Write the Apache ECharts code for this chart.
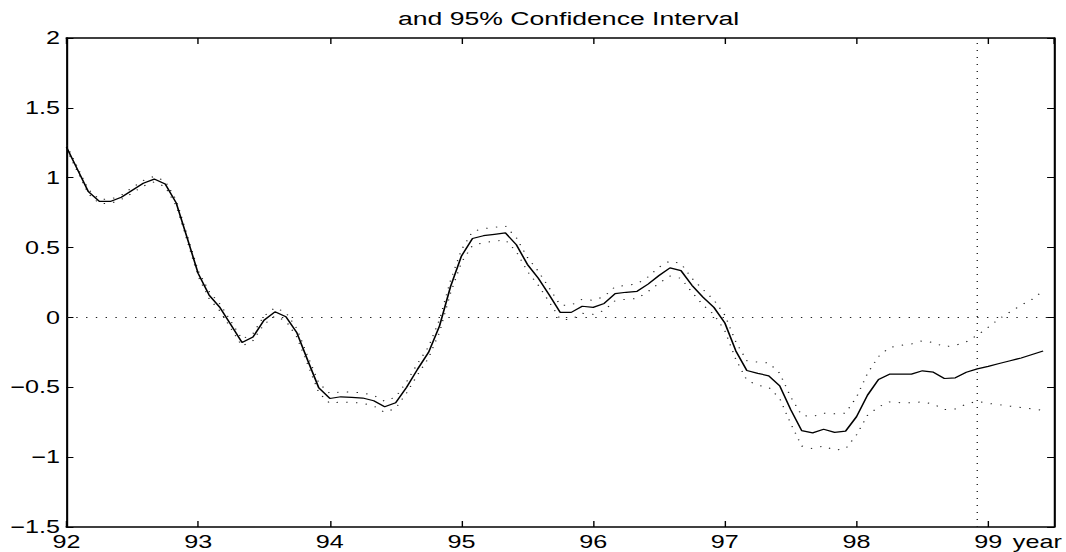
<!DOCTYPE html>
<html>
<head>
<meta charset="utf-8">
<script src="https://cdn.jsdelivr.net/npm/echarts@6/dist/echarts.min.js"></script>
<style>
  html, body { margin: 0; padding: 0; background: #fff; overflow: hidden; }
  /* figure is laid out narrow and widened horizontally, like a stretched plot window */
  #chart { position: absolute; left: 0; top: 0; width: 762px; height: 552px;
           transform: scaleX(1.39895); transform-origin: 0 0; }
</style>
</head>
<body>
<div id="chart"></div>
<script>
// Monthly estimates starting January 1992 (year given as two digits)
const startYear = 92;

const estimate = [
  1.22, 1.06, 0.90, 0.83, 0.83, 0.86, 0.91, 0.96, 0.99, 0.955, 0.82, 0.57,
  0.315, 0.16, 0.07, -0.055, -0.18, -0.14, -0.02, 0.04, 0.005, -0.11, -0.31, -0.505,
  -0.58, -0.568, -0.572, -0.577, -0.596, -0.64, -0.61, -0.50, -0.37, -0.25, -0.06, 0.22,
  0.44, 0.565, 0.585, 0.595, 0.605, 0.52, 0.38, 0.28, 0.16, 0.036, 0.036, 0.08,
  0.072, 0.10, 0.17, 0.18, 0.187, 0.238, 0.30, 0.355, 0.335, 0.23, 0.145, 0.072,
  -0.04, -0.24, -0.38, -0.40, -0.418, -0.49, -0.66, -0.81, -0.826, -0.80, -0.823, -0.814,
  -0.71, -0.556, -0.444, -0.406, -0.406, -0.406, -0.382, -0.392, -0.437, -0.432, -0.392, -0.368,
  -0.35, -0.33, -0.31, -0.29, -0.265, -0.24
];

const upper95 = [
  1.235, 1.075, 0.915, 0.845, 0.845, 0.875, 0.93, 0.98, 1.01, 0.975, 0.84, 0.59,
  0.335, 0.185, 0.095, -0.03, -0.155, -0.115, 0.01, 0.07, 0.035, -0.08, -0.28, -0.47,
  -0.545, -0.532, -0.535, -0.54, -0.558, -0.60, -0.57, -0.46, -0.33, -0.21, -0.015, 0.265,
  0.485, 0.615, 0.635, 0.645, 0.655, 0.57, 0.43, 0.33, 0.21, 0.088, 0.088, 0.13,
  0.122, 0.15, 0.22, 0.23, 0.24, 0.29, 0.36, 0.405, 0.385, 0.28, 0.2, 0.125,
  0.016, -0.175, -0.31, -0.32, -0.325, -0.40, -0.57, -0.70, -0.71, -0.685, -0.69, -0.685,
  -0.57, -0.40, -0.28, -0.215, -0.20, -0.19, -0.167, -0.18, -0.21, -0.20, -0.175, -0.127,
  -0.07, -0.01, 0.04, 0.088, 0.13, 0.19
];

const lower95 = [
  1.205, 1.045, 0.885, 0.815, 0.815, 0.845, 0.89, 0.94, 0.97, 0.935, 0.80, 0.55,
  0.295, 0.135, 0.045, -0.08, -0.205, -0.165, -0.05, 0.01, -0.025, -0.14, -0.34, -0.54,
  -0.615, -0.604, -0.609, -0.614, -0.634, -0.68, -0.65, -0.54, -0.41, -0.29, -0.105, 0.175,
  0.395, 0.515, 0.535, 0.545, 0.555, 0.47, 0.33, 0.23, 0.11, -0.014, -0.014, 0.03,
  0.022, 0.05, 0.12, 0.13, 0.135, 0.185, 0.245, 0.296, 0.28, 0.18, 0.09, 0.02,
  -0.095, -0.30, -0.45, -0.485, -0.50, -0.58, -0.76, -0.92, -0.94, -0.92, -0.95, -0.94,
  -0.84, -0.70, -0.64, -0.605, -0.61, -0.61, -0.604, -0.62, -0.66, -0.655, -0.62, -0.60,
  -0.615, -0.625, -0.635, -0.645, -0.655, -0.665
];

// last observed month (December 1998); later values are forecasts
const forecastStart = 98 + 11 / 12;

const xMin = 92, xMax = 99.5, xStep = 1;
const yMin = -1.5, yMax = 2, yStep = 0.5;
const xName = 'year';
const titleText = 'and 95% Confidence Interval';

const months = estimate.map((_, i) => startYear + i / 12);
const pairs = arr => arr.map((v, i) => [months[i], v]);

const FONT = '"Liberation Sans", Arial, Helvetica, sans-serif';
const dots = [1, 6];

const gridLeft = 47.5, gridRight = 6.6;
const chartWidth = 762;

const frameLine = { show: true, onZero: false, lineStyle: { color: '#000', width: 1.5 } };
const innerTick = len => ({ show: true, inside: true, length: len, lineStyle: { color: '#000', width: 1 } });

const chart = echarts.init(document.getElementById('chart'), null, { renderer: 'svg' });

chart.setOption({
  animation: false,
  backgroundColor: '#fff',
  title: {
    text: titleText,
    // centred over the plot box rather than the whole figure
    left: gridLeft + (chartWidth - gridLeft - gridRight) / 2,
    textAlign: 'center',
    top: 4,
    textStyle: { fontFamily: FONT, fontSize: 19, fontWeight: 'normal', color: '#000' }
  },
  grid: { left: gridLeft, right: gridRight, top: 38, bottom: 25, containLabel: false },
  xAxis: [
    {
      type: 'value', position: 'bottom', min: xMin, max: xMax, interval: xStep,
      axisLine: frameLine, splitLine: { show: false }, axisTick: innerTick(6),
      name: xName, nameLocation: 'end', nameGap: -29.5,
      nameTextStyle: { fontFamily: FONT, fontSize: 18, color: '#000',
                       verticalAlign: 'top', padding: [6, 0, 0, 0] },
      axisLabel: {
        show: true, margin: 6, showMaxLabel: false,
        fontFamily: FONT, fontSize: 18, color: '#000',
        formatter: v => Number.isInteger(v) ? String(v) : ''
      }
    },
    {
      type: 'value', position: 'top', min: xMin, max: xMax, interval: xStep,
      axisLine: frameLine, splitLine: { show: false }, axisTick: innerTick(6),
      axisLabel: { show: false }
    }
  ],
  yAxis: [
    {
      type: 'value', position: 'left', min: yMin, max: yMax, interval: yStep,
      axisLine: frameLine, splitLine: { show: false }, axisTick: innerTick(5),
      axisLabel: {
        show: true, margin: 4.6, fontFamily: FONT, fontSize: 18, color: '#000',
        formatter: v => String(v).replace('-', '\u2212')
      }
    },
    {
      type: 'value', position: 'right', min: yMin, max: yMax, interval: yStep,
      axisLine: frameLine, splitLine: { show: false }, axisTick: innerTick(5),
      axisLabel: { show: false }
    }
  ],
  series: [
    {
      name: 'zero', type: 'line', symbol: 'none', silent: true,
      data: [[xMin, 0], [xMax, 0]],
      lineStyle: { color: '#222', width: 1, type: dots }
    },
    {
      name: 'forecast origin', type: 'line', symbol: 'none', silent: true,
      data: [[forecastStart, yMin], [forecastStart, yMax]],
      lineStyle: { color: '#222', width: 1, type: dots }
    },
    {
      name: 'upper 95%', type: 'line', symbol: 'none', silent: true,
      data: pairs(upper95),
      lineStyle: { color: '#222', width: 1, type: dots }
    },
    {
      name: 'lower 95%', type: 'line', symbol: 'none', silent: true,
      data: pairs(lower95),
      lineStyle: { color: '#222', width: 1, type: dots }
    },
    {
      name: 'estimate', type: 'line', symbol: 'none', silent: true,
      data: pairs(estimate),
      lineStyle: { color: '#000', width: 1.2 }
    }
  ]
});
</script>
</body>
</html>
